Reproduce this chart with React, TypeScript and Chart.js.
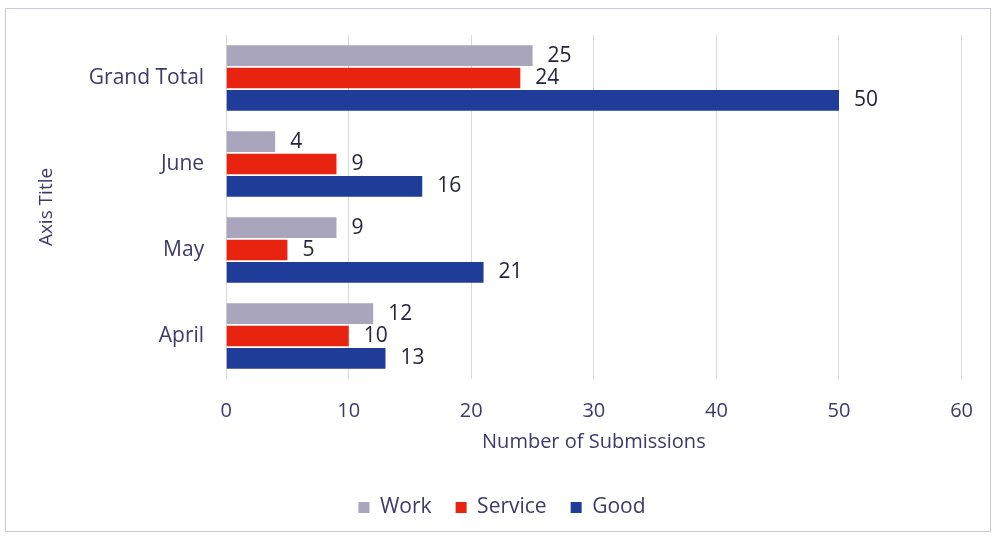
import React, { useEffect, useRef } from "react";
import { Chart, registerables } from "chart.js";

Chart.register(...registerables);

const categories = ["Grand Total", "June", "May", "April"];
const workValues = [25, 4, 9, 12];
const serviceValues = [24, 9, 5, 10];
const goodValues = [50, 16, 21, 13];
const seriesNames = ["Work", "Service", "Good"];
const seriesColors = ["#a9a5bd", "#e8230f", "#1f3c98"];

const FONT = "'Open Sans', 'Liberation Sans', sans-serif";
const TEXT = "#3c3a6a";

const labelPlugin = {
  id: "barLabels",
  afterDatasetsDraw(chart: any) {
    const ctx = chart.ctx;
    ctx.save();
    ctx.font = `21px ${FONT}`;
    ctx.fillStyle = "#24243a";
    ctx.textBaseline = "middle";
    ctx.textAlign = "left";
    chart.data.datasets.forEach((ds: any, i: number) => {
      const meta = chart.getDatasetMeta(i);
      meta.data.forEach((bar: any, j: number) => {
        ctx.fillText(String(ds.data[j]), bar.x + 15, bar.y);
      });
    });
    ctx.restore();
  },
};

export default function App() {
  const ref = useRef<HTMLCanvasElement>(null);
  useEffect(() => {
    if (!ref.current) return;
    const chart = new Chart(ref.current, {
      type: "bar",
      data: {
        labels: categories,
        datasets: [workValues, serviceValues, goodValues].map((d, i) => ({
          label: seriesNames[i],
          data: d,
          backgroundColor: seriesColors[i],
          borderWidth: 0,
          categoryPercentage: 0.78,
          barPercentage: 0.92,
        })),
      },
      options: {
        indexAxis: "y",
        animation: false,
        responsive: false,
        maintainAspectRatio: false,
        layout: { padding: { left: 35, right: 26, top: 35, bottom: 10 } },
        scales: {
          x: {
            min: 0,
            max: 60,
            ticks: {
              stepSize: 10,
              color: TEXT,
              font: { family: FONT, size: 20, lineHeight: 1 },
              padding: 22,
            },
            grid: { color: "#d9d9d9", drawTicks: false },
            border: { display: false },
            title: {
              display: true,
              text: "Number of Submissions",
              color: TEXT,
              font: { family: FONT, size: 20, lineHeight: 1 },
              padding: { top: -11, bottom: 21 },
            },
          },
          y: {
            ticks: { color: TEXT, font: { family: FONT, size: 21 }, padding: 22 },
            grid: { display: false, drawTicks: false },
            border: { display: false },
            title: {
              display: true,
              text: "Axis Title",
              color: TEXT,
              font: { family: FONT, size: 19 },
              padding: { top: 0, bottom: 9 },
            },
          },
        },
        plugins: {
          legend: {
            position: "bottom",
            labels: {
              color: TEXT,
              font: { family: FONT, size: 21 },
              boxWidth: 11,
              boxHeight: 11,
              padding: 24,
            },
          },
          tooltip: { enabled: false },
        },
      },
      plugins: [labelPlugin],
    });
    return () => chart.destroy();
  }, []);
  return (
    <div style={{ position: "fixed", left: 0, top: 0, width: 995, height: 538, background: "#fff" }}>
      <div
        style={{
          position: "absolute",
          left: 5,
          top: 8,
          width: 984,
          height: 522,
          border: "1px solid #c8c8d8",
        }}
      />
      <canvas ref={ref} width={995} height={538} style={{ position: "absolute", left: 0, top: 0 }} />
    </div>
  );
}
